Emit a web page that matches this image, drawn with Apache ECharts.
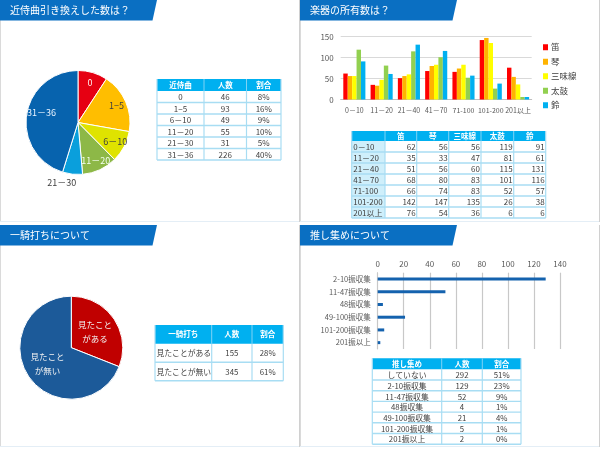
<!DOCTYPE html>
<html><head><meta charset="utf-8">
<script src="https://cdn.jsdelivr.net/npm/echarts@6/dist/echarts.min.js"></script>
<style>html,body{margin:0;padding:0;background:#fff}#c{width:600px;height:450px}</style>
</head><body><div id="c"></div>
<script>
const FONT = '"Noto Sans CJK JP", "Noto Sans", sans-serif';

// ---- slide titles
const titles = ['近侍曲引き換えした数は？', '楽器の所有数は？', '一騎打ちについて', '推し集めについて'];

// ---- slide 1: pie
const kinjiCats = ['0', '1−5', '6－10', '11－20', '21－30', '31－36'];
const kinjiCounts = [46, 93, 49, 55, 31, 226];
const kinjiPct = ['8%', '16%', '9%', '10%', '5%', '40%'];
const kinjiHeader = ['近侍曲', '人数', '割合'];

// ---- slide 2: grouped bars
const instCats = ['0－10', '11－20', '21－40', '41－70', '71-100', '101-200', '201以上'];
const instNames = ['笛', '琴', '三味線', '太鼓', '鈴'];
const fue = [62, 35, 51, 68, 66, 142, 76];
const koto = [56, 33, 56, 80, 74, 147, 54];
const shamisen = [56, 47, 60, 83, 83, 135, 36];
const taiko = [119, 81, 115, 101, 52, 26, 6];
const suzu = [91, 61, 131, 116, 57, 38, 6];
const instTicks = [0, 50, 100, 150];

// ---- slide 3: pie
const ikkiCats = ['見たことがある', '見たことが無い'];
const ikkiPieLabels = ['見たこと\nがある', '見たこと\nが無い'];
const ikkiCounts = [155, 345];
const ikkiPct = ['28%', '61%'];
const ikkiHeader = ['一騎打ち', '人数', '割合'];

// ---- slide 4: horizontal bars
const oshiCats = ['していない', '2-10振収集', '11-47振収集', '48振収集', '49-100振収集', '101-200振収集', '201振以上'];
const oshiCounts = [292, 129, 52, 4, 21, 5, 2];
const oshiPct = ['51%', '23%', '9%', '1%', '4%', '1%', '0%'];
const oshiHeader = ['推し集め', '人数', '割合'];
const oshiTicks = [0, 20, 40, 60, 80, 100, 120, 140];

// ---- styling
const pie1Colors = ['#E60012', '#FFBE00', '#DFE300', '#8DB847', '#0A9FDC', '#0763AE'];
const pie1LabelColors = ['#FFF4F4', '#404040', '#404040', '#F4FFF0', '#404040', '#EAF4FF'];
const pie3Colors = ['#C00000', '#1C5A99'];
const instColors = ['#FF0000', '#FFB300', '#FFFF00', '#92D050', '#00B0F0'];
const HEAD = '#00B0F0';
const LINE = '#A8DDF3';
const TXT = '#404040';

const graphics = [];

const origins = [[0, 0], [300, 0], [0, 225], [300, 225]];
origins.forEach((o, i) => {
  graphics.push({type: 'line', silent: true, shape: {x1: o[0] + 0.5, y1: o[1], x2: o[0] + 0.5, y2: o[1] + 222}, style: {stroke: '#DADADA', lineWidth: 1}});
  graphics.push({type: 'line', silent: true, shape: {x1: o[0] + 299.5, y1: o[1], x2: o[0] + 299.5, y2: o[1] + 222}, style: {stroke: '#D0D0D0', lineWidth: 1}});
  graphics.push({type: 'line', silent: true, shape: {x1: o[0], y1: o[1] + 221.5, x2: o[0] + 299, y2: o[1] + 221.5}, style: {stroke: '#E4EEF6', lineWidth: 1}});
  graphics.push({type: 'polygon', silent: true, shape: {points: [[o[0], o[1]], [o[0] + 157, o[1]], [o[0] + 152.5, o[1] + 20.5], [o[0], o[1] + 20.5]]}, style: {fill: '#0A6FC2'}});
  graphics.push({type: 'text', silent: true, x: o[0] + 10, y: o[1] + 10.5, style: {text: titles[i], fill: '#FFFFFF', fontSize: 10, fontFamily: FONT, align: 'left', verticalAlign: 'middle'}});
});

function makeTable(x0, y0, colW, headH, rowH, header, rows, opt) {
  const totalW = colW.reduce((a, b) => a + b, 0);
  const bodyH = rowH * rows.length;
  const fs = opt.fontSize || 8;
  graphics.push({type: 'rect', silent: true, shape: {x: x0, y: y0, width: totalW, height: headH}, style: {fill: HEAD}});
  if (opt.firstFill) {
    graphics.push({type: 'rect', silent: true, shape: {x: x0, y: y0 + headH, width: colW[0], height: bodyH}, style: {fill: opt.firstFill}});
  }
  for (let r = 1; r <= rows.length; r++) {
    const y = y0 + headH + rowH * r;
    graphics.push({type: 'line', silent: true, shape: {x1: x0, y1: y, x2: x0 + totalW, y2: y}, style: {stroke: LINE, lineWidth: 1.4}});
  }
  let cx = x0;
  for (let c = 0; c <= colW.length; c++) {
    graphics.push({type: 'line', silent: true, shape: {x1: cx, y1: (c === 0 || c === colW.length) ? y0 : y0 + headH, x2: cx, y2: y0 + headH + bodyH}, style: {stroke: LINE, lineWidth: 1.2}});
    if (c > 0 && c < colW.length) {
      graphics.push({type: 'line', silent: true, shape: {x1: cx, y1: y0, x2: cx, y2: y0 + headH}, style: {stroke: '#7FD3F5', lineWidth: 1}});
    }
    if (c < colW.length) cx += colW[c];
  }
  cx = x0;
  header.forEach((h, c) => {
    graphics.push({type: 'text', silent: true, x: cx + colW[c] / 2, y: y0 + headH / 2, style: {text: h, fill: '#FFFFFF', fontSize: fs, fontWeight: 'bold', fontFamily: FONT, align: 'center', verticalAlign: 'middle'}});
    cx += colW[c];
  });
  rows.forEach((row, r) => {
    let x = x0;
    row.forEach((v, c) => {
      const al = opt.align[c];
      const tx = al === 'left' ? x + 1.5 : (al === 'right' ? x + colW[c] - 1 : x + colW[c] / 2);
      graphics.push({type: 'text', silent: true, x: tx, y: y0 + headH + rowH * r + rowH / 2 + 0.5, style: {text: String(v), fill: TXT, fontSize: opt.bodySize || fs, fontFamily: FONT, align: al, verticalAlign: 'middle'}});
      x += colW[c];
    });
  });
}

makeTable(157, 79, [47, 42.5, 34.5], 12, 11.5, kinjiHeader,
  kinjiCats.map((n, i) => [n, kinjiCounts[i], kinjiPct[i]]),
  {align: ['center', 'center', 'center'], fontSize: 7.5, bodySize: 8});
makeTable(351.7, 131, [33.3, 31.7, 32, 32.3, 32.7, 32], 10, 11, [''].concat(instNames),
  instCats.map((n, i) => [n, fue[i], koto[i], shamisen[i], taiko[i], suzu[i]]),
  {align: ['left', 'right', 'right', 'right', 'right', 'right'], fontSize: 7.5, bodySize: 8, firstFill: '#CFEFFB'});
makeTable(155, 325, [56.7, 40.3, 31.3], 18.7, 18.5, ikkiHeader,
  ikkiCats.map((n, i) => [n, ikkiCounts[i], ikkiPct[i]]),
  {align: ['left', 'center', 'center'], fontSize: 7.5, bodySize: 7.8});
makeTable(372.3, 358.3, [69.4, 40.6, 38.7], 11, 10.7, oshiHeader,
  oshiCats.map((n, i) => [n, oshiCounts[i], oshiPct[i]]),
  {align: ['center', 'center', 'center'], fontSize: 7.5, bodySize: 7.8});

const chart = echarts.init(document.getElementById('c'), null, {renderer: 'canvas'});

const axisLabelStyle = {color: '#595959', fontFamily: FONT};

const option = {
  animation: false,
  backgroundColor: '#FFFFFF',
  textStyle: {fontFamily: FONT},
  legend: {
    orient: 'vertical', left: 538, top: 38, itemWidth: 5, itemHeight: 6, itemGap: 6,
    icon: 'rect', data: instNames,
    textStyle: {fontSize: 8.5, color: TXT, fontFamily: FONT, padding: [0, 0, 0, -2]}
  },
  grid: [
    {left: 340.7, top: 36.7, width: 191, height: 62.8, containLabel: false},
    {left: 377.7, top: 272.7, width: 182.3, height: 76.3, containLabel: false}
  ],
  xAxis: [
    {type: 'category', gridIndex: 0, data: instCats,
      axisLine: {lineStyle: {color: '#BFBFBF'}}, axisTick: {length: 3, lineStyle: {color: '#BFBFBF'}},
      axisLabel: Object.assign({fontSize: 7, margin: 7, interval: 0}, axisLabelStyle)},
    {type: 'value', gridIndex: 1, position: 'top', min: oshiTicks[0], max: oshiTicks[oshiTicks.length - 1], interval: 20,
      axisLine: {show: false}, axisTick: {show: false},
      splitLine: {lineStyle: {color: '#C8C8C8', width: 1.2}},
      axisLabel: Object.assign({fontSize: 8, margin: 5}, axisLabelStyle)}
  ],
  yAxis: [
    {type: 'value', gridIndex: 0, min: instTicks[0], max: instTicks[instTicks.length - 1], interval: 50,
      axisLine: {show: false}, axisTick: {show: false},
      splitLine: {lineStyle: {color: '#D9D9D9'}},
      axisLabel: Object.assign({fontSize: 8, margin: 7}, axisLabelStyle)},
    {type: 'category', gridIndex: 1, inverse: true, data: oshiCats.slice(1),
      axisLine: {show: true, lineStyle: {color: '#C8C8C8'}}, axisTick: {length: 3, lineStyle: {color: '#C8C8C8'}},
      axisLabel: Object.assign({fontSize: 7.5, margin: 7, interval: 0}, axisLabelStyle)}
  ],
  series: [
    {type: 'pie', center: [78, 122.5], radius: 52, silent: true, startAngle: 90,
      itemStyle: {borderColor: '#FFFFFF', borderWidth: 1},
      label: {show: false}, labelLine: {show: false},
      labelLayout: p => (p.dataIndex === 4 ? {dx: 9, dy: 5} : {}),
      data: kinjiCats.map((n, i) => {
        const d = {name: n, value: kinjiCounts[i], itemStyle: {color: pie1Colors[i]}};
        if (i === 4) {
          d.label = {show: true, position: 'outside', color: TXT, fontSize: 9, fontFamily: FONT, overflow: 'none'};
          d.labelLine = {show: false, length: 3, length2: 0};
        }
        return d;
      })},
    {type: 'pie', center: [78, 122.5], radius: 78, silent: true, startAngle: 90, z: 5,
      itemStyle: {color: 'rgba(0,0,0,0)', borderWidth: 0},
      label: {show: true, position: 'inside', fontSize: 9, fontFamily: FONT, overflow: 'none'},
      labelLine: {show: false},
      labelLayout: p => (p.dataIndex === 5 ? {dx: 5, dy: -4} : {}),
      data: kinjiCats.map((n, i) => ({name: n, value: kinjiCounts[i],
        label: {show: i !== 4, color: pie1LabelColors[i]}}))},
    {type: 'pie', center: [71.3, 347.7], radius: 51.5, silent: true, startAngle: 90,
      itemStyle: {borderColor: '#FFFFFF', borderWidth: 1},
      label: {show: true, position: 'inside', fontSize: 8.5, lineHeight: 14, color: '#F2F2F2', fontFamily: FONT, overflow: 'none',
        formatter: p => ikkiPieLabels[p.dataIndex]},
      labelLine: {show: false},
      data: ikkiCats.map((n, i) => ({name: n, value: ikkiCounts[i], itemStyle: {color: pie3Colors[i]}}))},
    {type: 'bar', name: instNames[0], xAxisIndex: 0, yAxisIndex: 0, data: fue, itemStyle: {color: instColors[0]}, barGap: '0%', barCategoryGap: '19%'},
    {type: 'bar', name: instNames[1], xAxisIndex: 0, yAxisIndex: 0, data: koto, itemStyle: {color: instColors[1]}, barGap: '0%', barCategoryGap: '19%'},
    {type: 'bar', name: instNames[2], xAxisIndex: 0, yAxisIndex: 0, data: shamisen, itemStyle: {color: instColors[2]}, barGap: '0%', barCategoryGap: '19%'},
    {type: 'bar', name: instNames[3], xAxisIndex: 0, yAxisIndex: 0, data: taiko, itemStyle: {color: instColors[3]}, barGap: '0%', barCategoryGap: '19%'},
    {type: 'bar', name: instNames[4], xAxisIndex: 0, yAxisIndex: 0, data: suzu, itemStyle: {color: instColors[4]}, barGap: '0%', barCategoryGap: '19%'},
    {type: 'bar', xAxisIndex: 1, yAxisIndex: 1, data: oshiCounts.slice(1), barWidth: 3, itemStyle: {color: '#1462AE'}}
  ],
  graphic: graphics
};
chart.setOption(option);
</script>
</body></html>
